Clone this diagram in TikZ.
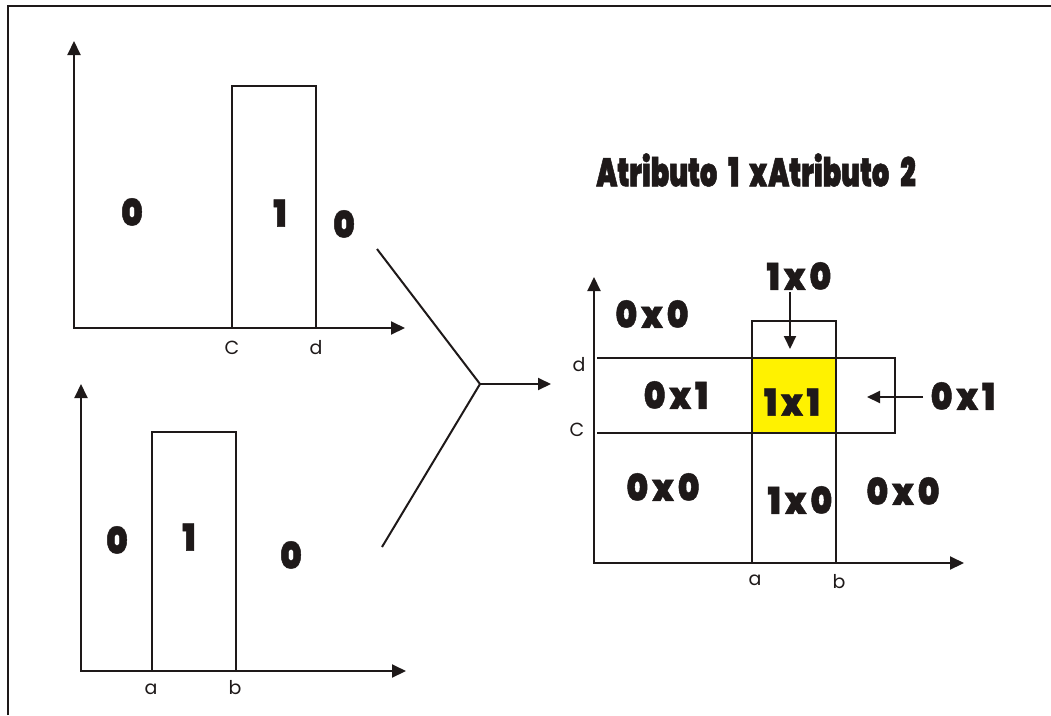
\documentclass[tikz,border=0pt]{standalone}
\usepackage{fontspec}
\setmainfont{Poppins}
\newfontfamily\heavyfont{Poppins}[UprightFont=* Black, FakeStretch=0.88, FakeBold=1.2]
\newfontfamily\titlefont{Poppins}[UprightFont=* Black, FakeStretch=0.68, FakeBold=1.2]
\usetikzlibrary{arrows.meta}
\definecolor{cellyellow}{RGB}{255,242,0}
\definecolor{ink}{RGB}{30,25,25}
\newcommand\by[2]{#1\kern4pt x\kern4pt #2}
\tikzset{
  frameline/.style={line width=2.6pt, draw=ink},
  edge/.style={line width=2pt, draw=ink},
  axis/.style={line width=2pt, draw=ink, arrows={Triangle[length=14pt,width=13pt]-Triangle[length=14pt,width=13pt]}},
  pointer/.style={line width=2pt, draw=ink, -{Triangle[length=13pt,width=12pt]}},
  num/.style={font=\heavyfont\fontsize{37}{37}\selectfont, text=ink, inner sep=0pt},
  tick/.style={font=\fontsize{19}{19}\selectfont, text=ink, inner sep=0pt},
  heading/.style={font=\titlefont\fontsize{40}{40}\selectfont, text=ink, inner sep=0pt}
}
\begin{document}
\begin{tikzpicture}[x=1pt, y=-1pt]
\useasboundingbox (0,0) rectangle (1051,715);
% outer frame (top and left edges)
\draw[frameline] (8,715) -- (8,6) -- (1051,6);

% ---- attribute 1: interval [C,d] ----
\coordinate (o1) at (74,328);
\coordinate (y1) at (74,41);
\coordinate (x1) at (405,328);
\draw[axis] (y1) -- (o1) -- (x1);
\coordinate (c1) at (232,328);
\coordinate (d1) at (316,328);
\draw[edge] (c1) -- (232,86) -- (316,86) -- (d1);
\node[num] (t0a) at (132,212) {0};
\node[num] (t1)  at (280,213) {1};
\node[num] (t0b) at (344,224) {0};
\node[tick] (tc) at (232,348) {C};
\node[tick] (td) at (316,348) {d};

% ---- attribute 2: interval [a,b] ----
\coordinate (o2) at (81,671);
\coordinate (y2) at (81,384);
\coordinate (x2) at (406,671);
\draw[axis] (y2) -- (o2) -- (x2);
\coordinate (a2) at (152,671);
\coordinate (b2) at (236,671);
\draw[edge] (a2) -- (152,432) -- (236,432) -- (b2);
\node[num] (b0a) at (117,540) {0};
\node[num] (b1)  at (189,537) {1};
\node[num] (b0b) at (291,555) {0};
\node[tick] (ba) at (151,689) {a};
\node[tick] (bb) at (235,688) {b};

% ---- combining connector ----
\coordinate (from1) at (377,249);
\coordinate (from2) at (382,547);
\coordinate (join) at (480,384);
\coordinate (into) at (551,384);
\draw[edge] (from1) -- (join) -- (from2);
\draw[pointer] (join) -- (into);

% ---- product space ----
\node[heading] (title) at (756,170) {Atributo\kern11pt 1\kern10pt x\kern1pt Atributo\kern11pt 2};

\fill[cellyellow] (752,358) rectangle (836,433);
\coordinate (o3) at (594,563);
\coordinate (y3) at (594,277);
\coordinate (x3) at (964,563);
\draw[axis] (y3) -- (o3) -- (x3);
% column for [a,b]
\draw[edge] (752,563) -- (752,321) -- (836,321) -- (836,563);
% row for [C,d]
\draw[edge] (597,358) -- (895,358) -- (895,433) -- (597,433);

\node[tick] (pd) at (579,365) {d};
\node[tick] (pc) at (577,430) {C};
\node[tick] (pa) at (755,580) {a};
\node[tick] (pb) at (839,582) {b};

\node[num] (r00a) at (652,314) {\by00};
\node[num] (r10t) at (799,276) {\by10};
\node[num] (r01m) at (676,395) {\by01};
\node[num] (r11)  at (792,402) {\by11};
\node[num] (r01r) at (963,396) {\by01};
\node[num] (r00b) at (663,487) {\by00};
\node[num] (r10b) at (800,500) {\by10};
\node[num] (r00c) at (903,491) {\by00};

\coordinate (tip10) at (790,349);
\coordinate (tail10) at (790,292);
\draw[pointer] (tail10) -- (tip10);
\coordinate (tip01) at (867,397);
\coordinate (tail01) at (923,397);
\draw[pointer] (tail01) -- (tip01);
\end{tikzpicture}
\end{document}
